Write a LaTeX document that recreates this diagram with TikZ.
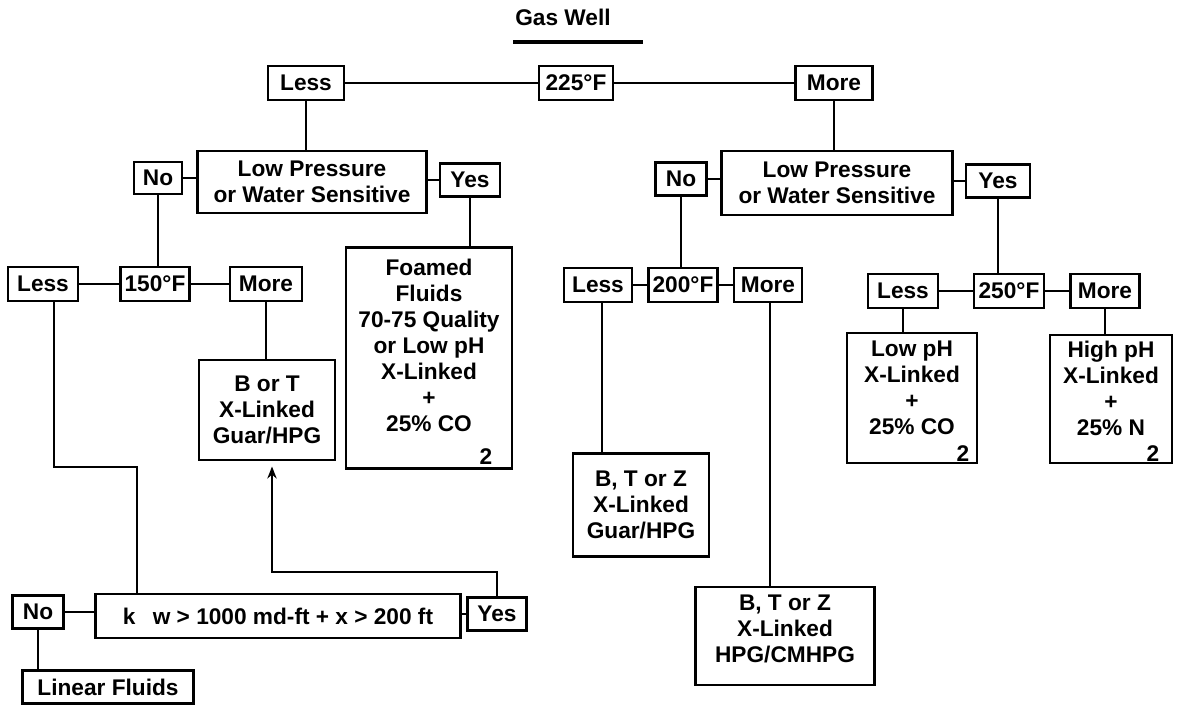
\documentclass[tikz,border=0pt]{standalone}
\usepackage{fontspec}
\setmainfont{Liberation Sans}
\usetikzlibrary{arrows.meta}
\begin{document}
\begin{tikzpicture}[x=0.75pt,y=-0.75pt,
  txt/.style={font=\bfseries\fontsize{17}{19.5}\selectfont, inner sep=0pt, align=center},
  bx/.style={txt, draw, line width=1.8pt, minimum height=25.5pt},
  conn/.style={line width=1.4pt}]
\fill[white] (0,0) rectangle (1179,705);
\useasboundingbox (0,0) rectangle (1179,705);
% title
\node[txt] (title) at (563,17) {Gas Well};
\coordinate (ul1) at (513,42);
\coordinate (ul2) at (643,42);
\draw[line width=3pt] (ul1) -- (ul2);
% row 1
\node[bx, minimum width=57pt] (less1) at (306,83) {Less};
\node[bx, minimum width=55.5pt] (t225) at (576,83) {225°F};
\node[bx, minimum width=57.75pt] (more1) at (834,83) {More};
% row 2
\node[bx, minimum width=171.75pt, minimum height=46.5pt] (lp1) at (312,182) {Low Pressure\\or Water Sensitive};
\node[bx, minimum width=173.25pt, minimum height=48pt] (lp2) at (837,183) {Low Pressure\\or Water Sensitive};
\node[bx, minimum width=36pt, minimum height=24pt] (no1) at (158,178) {No};
\node[bx, minimum width=45pt, minimum height=24.75pt] (yes1) at (470,180) {Yes};
\node[bx, minimum width=38.25pt, minimum height=24.75pt] (no2) at (681,179) {No};
\node[bx, minimum width=48pt, minimum height=24.75pt] (yes2) at (998,181) {Yes};
% row 3
\node[bx, minimum width=52.5pt] (less2) at (43,284) {Less};
\node[bx, minimum width=51.75pt] (t150) at (155,284) {150°F};
\node[bx, minimum width=54pt] (more2) at (266,284) {More};
\node[bx, minimum width=51pt] (less3) at (598,285) {Less};
\node[bx, minimum width=51.75pt] (t200) at (683,285) {200°F};
\node[bx, minimum width=51pt] (more3) at (768,285) {More};
\node[bx, minimum width=52.5pt] (less4) at (903,291) {Less};
\node[bx, minimum width=52.5pt] (t250) at (1009,291) {250°F};
\node[bx, minimum width=51.75pt] (more4) at (1105,291) {More};
% result boxes
\node[bx, minimum width=102pt, minimum height=75pt] (bort) at (267,410) {B or T\\X-Linked\\Guar/HPG};
\node[bx, minimum width=124.5pt, minimum height=165.75pt] (foamed) at (429,358) {};
\node[txt] (foamedtxt) at (429,345) {Foamed\\Fluids\\70-75 Quality\\or Low pH\\X-Linked\\+\\25\% CO};
\node[txt] (foamed2) at (486,457) {2};
\node[bx, minimum width=102pt, minimum height=77.25pt] (btz1) at (641,505) {B, T or Z\\X-Linked\\Guar/HPG};
\node[bx, minimum width=134.25pt, minimum height=73.5pt] (btz2) at (785,636) {};
\node[txt] (btz2txt) at (785,629) {B, T or Z\\X-Linked\\HPG/CMHPG};
\node[bx, minimum width=97.5pt, minimum height=97.5pt] (lowph) at (912,398) {};
\node[txt] (lowphtxt) at (912,388) {Low pH\\X-Linked\\+\\25\% CO};
\node[txt] (lowph2) at (963,454) {2};
\node[bx, minimum width=91.5pt, minimum height=96pt] (highph) at (1111,399) {};
\node[txt] (highphtxt) at (1111,388) {High pH\\X-Linked\\+\\25\% N};
\node[txt] (highph2) at (1153,454) {2};
% bottom
\node[bx, minimum width=38.25pt, minimum height=24.75pt] (no3) at (38,612) {No};
\node[bx, minimum width=273.75pt, minimum height=33pt] (kw) at (278,616) {k\hspace{13pt}w > 1000 md-ft + x > 200 ft};
\node[bx, minimum width=44.25pt, minimum height=24.75pt] (yes3) at (497,614) {Yes};
\node[bx, minimum width=128.25pt, minimum height=24.75pt] (linear) at (108,687) {Linear Fluids};
% connectors
\draw[conn] (less1) -- (t225);
\draw[conn] (t225) -- (more1);
\draw[conn] (less1.south) -- (less1.south |- lp1.north);
\draw[conn] (more1.south) -- (more1.south |- lp2.north);
\draw[conn] (no1.east) -- (no1.east -| lp1.west);
\draw[conn] (yes1.west -| lp1.east) -- (yes1.west);
\draw[conn] (no2.east) -- (no2.east -| lp2.west);
\draw[conn] (yes2.west -| lp2.east) -- (yes2.west);
\draw[conn] (no1.south) -- (no1.south |- t150.north);
\draw[conn] (yes1.south) -- (yes1.south |- foamed.north);
\draw[conn] (less2) -- (t150);
\draw[conn] (t150) -- (more2);
\draw[conn] (more2.south) -- (more2.south |- bort.north);
\coordinate (c1) at (54,467);
\coordinate (c2) at (137,467);
\draw[conn] (c1 |- less2.south) -- (c1) -- (c2) -- (c2 |- kw.north);
\draw[conn] (no2.south) -- (no2.south |- t200.north);
\draw[conn] (less3) -- (t200);
\draw[conn] (t200) -- (more3);
\coordinate (c4) at (602,400);
\draw[conn] (c4 |- less3.south) -- (c4 |- btz1.north);
\coordinate (c5) at (770,400);
\draw[conn] (c5 |- more3.south) -- (c5 |- btz2.north);
\draw[conn] (yes2.south) -- (yes2.south |- t250.north);
\draw[conn] (less4) -- (t250);
\draw[conn] (t250) -- (more4);
\draw[conn] (less4.south) -- (less4.south |- lowph.north);
\draw[conn] (more4.south) -- (more4.south |- highph.north);
\draw[conn] (no3.east) -- (no3.east -| kw.west);
\draw[conn] (yes3.west -| kw.east) -- (yes3.west);
\draw[conn] (no3.south) -- (no3.south |- linear.north);
\coordinate (c3) at (272,572);
\draw[conn, -{Stealth[length=9pt,width=7pt]}, shorten >=4pt] (yes3.north) -- (yes3.north |- c3) -- (c3) -- (c3 |- bort.south);
\end{tikzpicture}
\end{document}
